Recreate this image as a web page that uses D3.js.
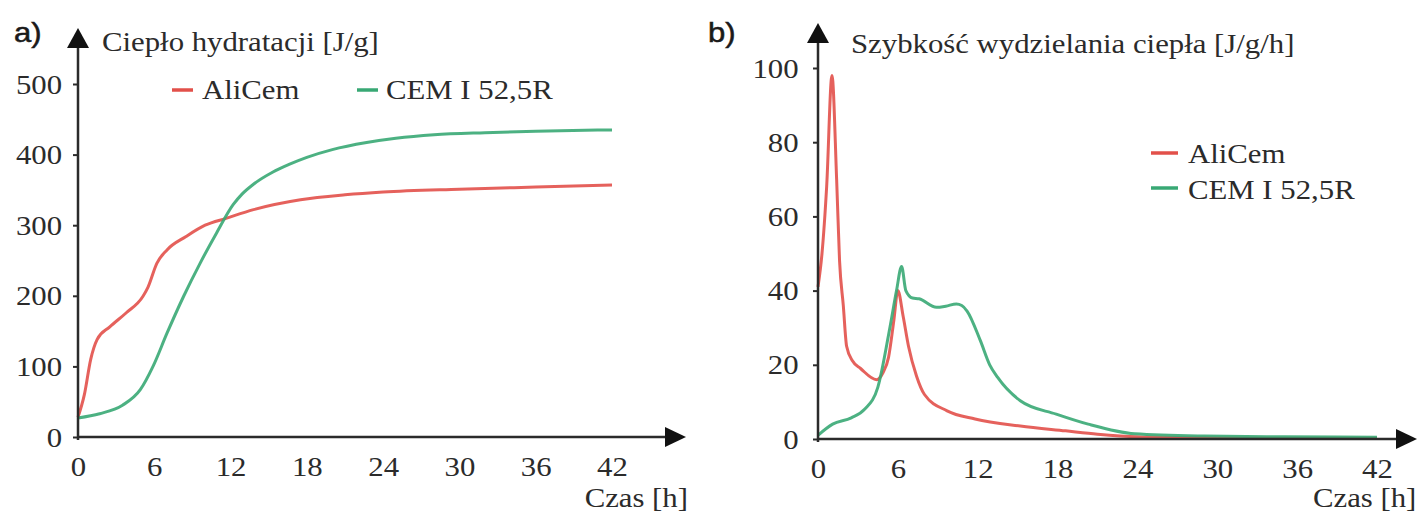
<!DOCTYPE html>
<html><head><meta charset="utf-8">
<script src="https://cdn.jsdelivr.net/npm/d3@7"></script>
<style>
body{margin:0;background:#fff;}
text{font-family:"Liberation Serif","Times New Roman",serif;fill:#2b2b2b;}
</style></head>
<body><svg id="c" width="1418" height="514"></svg>
<script>
// ---------- data ----------
const xTicks = [0, 6, 12, 18, 24, 30, 36, 42];
const yTicksA = [0, 100, 200, 300, 400, 500];
const yTicksB = [0, 20, 40, 60, 80, 100];
const seriesNames = ["AliCem", "CEM I 52,5R"];

// a) heat of hydration [J/g]
const heatAliCemH = [0, 0.5, 1, 1.5, 2.5, 3.8, 5.1, 5.5, 6.2, 7, 8.5, 10, 11.7, 13.8, 17.5, 21, 24, 30, 36, 42];
const heatAliCemV = [28, 60, 110, 138, 156, 176, 199, 212, 246, 265, 284, 300, 310, 322, 336, 343, 347, 351, 354, 357];
const heatCemH = [0, 1.7, 3.5, 4.9, 5.9, 7, 8.3, 9.6, 10.9, 12.2, 12.9, 13.8, 15.3, 16.6, 18, 20, 22.7, 25, 28, 32, 36, 42];
const heatCemV = [27, 33, 45, 67, 100, 147, 199, 246, 289, 329, 344, 358, 375, 386, 396, 407, 417, 423, 428, 431, 433, 435];

// b) heat release rate [J/g/h]
const rateAliCemH = [0, 0.3, 0.65, 1.05, 1.4, 1.62, 1.9, 2.15, 2.6, 3.2, 4.4, 4.9, 5.3, 5.7, 6.0, 6.4, 6.8, 7.4, 8, 9.7, 11.8, 15.2, 18.6, 21, 24, 30, 36, 42];
const rateAliCemV = [41, 50, 68, 98, 70, 48, 36, 25, 21, 19, 16, 18, 22, 32, 40, 33, 25, 17, 12, 7.6, 5.4, 3.5, 2.2, 1.3, 0.6, 0.3, 0.2, 0.2];
const rateCemH = [0, 1.1, 2.5, 3.5, 4.5, 5.4, 5.9, 6.28, 6.6, 7.1, 7.6, 8.9, 9.6, 10.4, 10.8, 11.2, 12.2, 12.9, 13.5, 15.2, 17.9, 20.3, 23.8, 29, 35, 42];
const rateCemV = [1, 4, 5.7, 8, 14, 30, 40, 46.5, 40, 38, 37.8, 35.5, 35.8, 36.4, 36, 34.5, 26.5, 20, 16.6, 10.3, 6.7, 4, 1.4, 0.8, 0.6, 0.5];

// ---------- drawing ----------
const RED = "#e2504a", GREEN = "#38a874", AX = "#2b2b2b";
const SX = 1.14, FS = 27;
const svg = d3.select("#c");

function txt(g, x, y, s, opts = {}) {
  const t = g.append("g").attr("transform", `translate(${x},${y}) scale(${opts.sx || SX},1)`)
    .append("text").text(s)
    .attr("font-size", opts.fs || FS)
    .attr("text-anchor", opts.anchor || "start");
  if (opts.sans) t.style("font-family", "'Liberation Sans',Arial,sans-serif").style("fill", "#1a1a1a")
    .style("stroke", "#1a1a1a").style("stroke-width", 0.5);
  return t;
}

function zip(h, v) { return h.map((d, i) => ({h: d, v: v[i]})); }

function panel(cfg) {
  const g = svg.append("g");
  const x = d3.scaleLinear().domain([0, 42]).range([cfg.x0, cfg.x42]);
  const y = d3.scaleLinear().domain(cfg.ydom).range(cfg.yrange);
  const y0 = y(0);

  // lines
  const line = d3.line().x(d => x(d.h)).y(d => y(d.v)).curve(d3.curveMonotoneX);
  cfg.series.forEach(s => {
    g.append("path").datum(s.data).attr("d", line)
      .attr("fill", "none").attr("stroke", s.color).attr("stroke-width", 3)
      .attr("stroke-linejoin", "round").attr("opacity", 0.9);
  });

  // axes
  const ax = g.append("g").attr("transform", `translate(0,${y0})`)
    .call(d3.axisBottom(x).tickValues(xTicks).tickSize(0).tickPadding(20));
  ax.select(".domain").remove();
  ax.selectAll("text").attr("font-size", FS).attr("fill", AX)
    .style("font-family", "'Liberation Serif',serif").attr("transform", `scale(${SX},1)`);

  const ay = g.append("g").attr("transform", `translate(${cfg.x0},0)`)
    .call(d3.axisLeft(y).tickValues(cfg.yticks).tickSize(5).tickPadding(cfg.ypad));
  ay.select(".domain").remove();
  ay.selectAll("line").attr("stroke", AX).attr("stroke-width", 2);
  ay.selectAll("text").attr("font-size", FS).attr("fill", AX).attr("dy", "0.34em")
    .style("font-family", "'Liberation Serif',serif").attr("transform", `scale(${SX},1)`);

  // axis lines with arrows
  g.append("line").attr("x1", cfg.x0).attr("x2", cfg.xArrow - 18).attr("y1", y0).attr("y2", y0)
    .attr("stroke", AX).attr("stroke-width", 2.5);
  g.append("path").attr("d", `M${cfg.xArrow},${y0} L${cfg.xArrow - 21},${y0 - 10} L${cfg.xArrow - 21},${y0 + 10} Z`).attr("fill", "#111");
  g.append("line").attr("x1", cfg.x0).attr("x2", cfg.x0).attr("y1", y0 + 3).attr("y2", cfg.yArrow + 18)
    .attr("stroke", AX).attr("stroke-width", 2.5);
  g.append("path").attr("d", `M${cfg.x0},${cfg.yArrow} L${cfg.x0 - 11},${cfg.yArrow + 20} L${cfg.x0 + 11},${cfg.yArrow + 20} Z`).attr("fill", "#111");

  // labels
  txt(g, cfg.tagX, 42, cfg.tag, {fs: 27, sans: true, sx: 1.15});
  txt(g, cfg.titleX, cfg.titleY, cfg.title);
  txt(g, cfg.czasX, 507, "Czas [h]", {anchor: cfg.czasAnchor});

  // legend
  cfg.legend.forEach((l, i) => {
    const s = cfg.series[i];
    g.append("line").attr("x1", l.mx).attr("x2", l.mx + l.ml).attr("y1", l.my).attr("y2", l.my)
      .attr("stroke", s.color).attr("stroke-width", 3.5);
    txt(g, l.tx, l.ty, seriesNames[i]);
  });
}

panel({
  x0: 78, x42: 612, ydom: [0, 500], yrange: [437, 84], yticks: yTicksA, ypad: 9,
  xArrow: 686, yArrow: 28, tag: "a)", tagX: 14,
  title: "Ciepło hydratacji [J/g]", titleX: 102, titleY: 51,
  czasX: 688, czasAnchor: "end",
  series: [{color: RED, data: zip(heatAliCemH, heatAliCemV)}, {color: GREEN, data: zip(heatCemH, heatCemV)}],
  legend: [{mx: 172, ml: 21, my: 90, tx: 202, ty: 99}, {mx: 357, ml: 21, my: 90, tx: 386, ty: 99}]
});

panel({
  x0: 818, x42: 1377, ydom: [0, 100], yrange: [439, 68], yticks: yTicksB, ypad: 12,
  xArrow: 1417, yArrow: 23, tag: "b)", tagX: 708,
  title: "Szybkość wydzielania ciepła [J/g/h]", titleX: 851, titleY: 53,
  czasX: 1313, czasAnchor: "start",
  series: [{color: RED, data: zip(rateAliCemH, rateAliCemV)}, {color: GREEN, data: zip(rateCemH, rateCemV)}],
  legend: [{mx: 1151, ml: 27, my: 153, tx: 1188, ty: 163}, {mx: 1151, ml: 27, my: 188, tx: 1188, ty: 199}]
});
</script></body></html>
